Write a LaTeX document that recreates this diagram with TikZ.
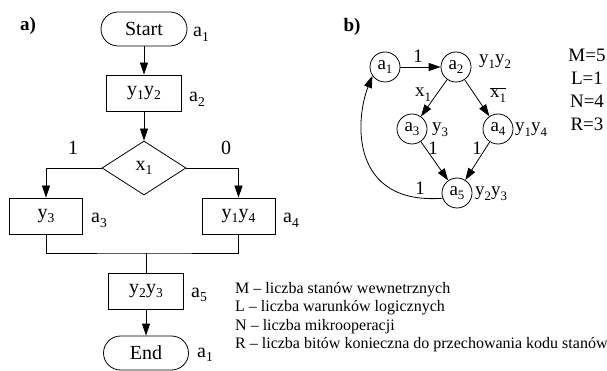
\documentclass[tikz,border=0pt]{standalone}
\usepackage{fontspec}
\setmainfont{Liberation Serif}
\usetikzlibrary{arrows.meta,shapes.geometric}
\newcommand{\lo}[1]{\raisebox{-0.22em}{\scalebox{0.68}{#1}}}
\tikzset{
  ftA/.style={font=\fontsize{20}{24}\selectfont},
  ftB/.style={font=\fontsize{19}{23}\selectfont},
  ln/.style={line width=0.8pt},
  opbox/.style={draw, ln, ftA, minimum width=75pt, minimum height=36pt, inner sep=0pt},
  term/.style={draw, ln, ftA, rounded corners=17pt, minimum width=86pt, minimum height=34pt, inner sep=0pt},
  cond/.style={diamond, draw, ln, ftA, minimum width=84pt, minimum height=54pt, inner sep=0pt},
  st/.style={circle, draw, ln, ftB, minimum size=30pt, inner sep=0pt},
  arr/.style={ln, -{Triangle[length=12pt,width=8pt]}},
  labA/.style={anchor=base west, inner sep=0pt, ftA},
  labB/.style={anchor=base west, inner sep=0pt, ftB},
  numA/.style={anchor=base, inner sep=0pt, ftA},
  numB/.style={anchor=base, inner sep=0pt, ftB},
  leg/.style={anchor=base west, inner sep=0pt, font=\fontsize{16}{19}\selectfont},
}
\begin{document}
\begin{tikzpicture}[x=1pt,y=-1pt]
\useasboundingbox (0,0) rectangle (607,371);

% ---------- part a ----------
\node[inner sep=0pt, font=\fontsize{19}{23}\selectfont\bfseries] (ta) at (28,26) {a)};

\node[term] (start) at (144,29) {Start};
\node[labA] (la1) at (193,37) {a\lo{1}};
\node[opbox] (b12) at (144,93) {y\lo{1}y\lo{2}};
\node[labA] (la2) at (189,102) {a\lo{2}};
\node[cond] (d) at (144,168) {x\lo{1}};
\node[numA] (one) at (73,155) {1};
\node[numA] (zero) at (226,155) {0};
\node[opbox, minimum width=73pt] (b3) at (46,216) {y\lo{3}};
\node[labA] (la3) at (91,223) {a\lo{3}};
\node[opbox, minimum width=73pt] (b14) at (238.5,216) {y\lo{1}y\lo{4}};
\node[labA] (la4) at (283,223) {a\lo{4}};
\coordinate (m) at (146,253);
\node[opbox] (b23) at (146,291) {y\lo{2}y\lo{3}};
\node[labA] (la5) at (191,297) {a\lo{5}};
\node[term, minimum width=85pt] (end) at (146,353) {End};
\node[labA] (la1b) at (197,357) {a\lo{1}};

\draw[arr] (start) -- (b12);
\draw[arr] (b12) -- (d);
\draw[arr] (d.west) -| (b3.north);
\draw[arr] (d.east) -| (b14.north);
\draw[ln] (b3.south) |- (m) -| (b14.south);
\draw[ln] (m) -- (b23.north);
\draw[arr] (b23) -- (end);

\node[leg] (l1) at (235,293) {M – liczba stanów wewnetrznych};
\node[leg] (l2) at (235,311.5) {L – liczba warunków logicznych};
\node[leg] (l3) at (235,330) {N – liczba mikrooperacji};
\node[leg] (l4) at (235,348.5) {R – liczba bitów konieczna do przechowania kodu stanów};

% ---------- part b ----------
\node[inner sep=0pt, font=\fontsize{19}{23}\selectfont\bfseries] (tb) at (352,27) {b)};

\node[st] (s1) at (385,67) {a\lo{1}};
\node[st] (s2) at (456,67) {a\lo{2}};
\node[st] (s3) at (412,129) {a\lo{3}};
\node[st] (s4) at (498,129) {a\lo{4}};
\node[st] (s5) at (457,193) {a\lo{5}};

\node[labB] (y12) at (479,64) {y\lo{1}y\lo{2}};
\node[labB] (y3) at (432,132) {y\lo{3}};
\node[labB] (y14) at (515,132) {y\lo{1}y\lo{4}};
\node[labB] (y23) at (475,196) {y\lo{2}y\lo{3}};

\draw[arr] (s1) -- (s2);
\draw[arr] (s2) -- (s3);
\draw[arr] (s2) -- (s4);
\draw[arr] (s3) -- (s5);
\draw[arr] (s4) -- (s5);
\draw[arr] (s5.200) .. controls (350,205) and (355,120) .. (s1.215);

\node[numB] (e12) at (418,63) {1};
\node[numB] (e23) at (423,97) {x\lo{1}};
\node[numB] (e24) at (498,98) {$\overline{\hbox{x\lo{1}}}$};
\node[numB] (e35) at (433,155) {1};
\node[numB] (e45) at (477,155) {1};
\node[numB] (e51) at (420,195) {1};

\node[numB] (pm) at (587,62) {M=5};
\node[numB] (pl) at (587,85) {L=1};
\node[numB] (pn) at (587,108) {N=4};
\node[numB] (pr) at (587,131) {R=3};
\end{tikzpicture}
\end{document}
